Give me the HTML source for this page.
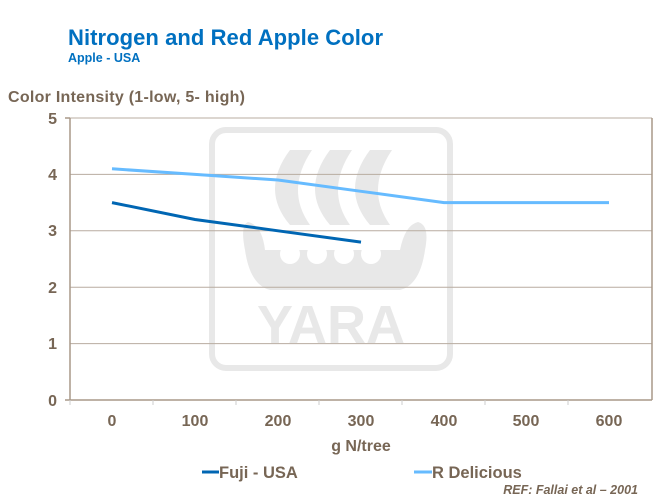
<!DOCTYPE html>
<html><head><style>
body{margin:0;background:#fff;}
svg{display:block;font-family:"Liberation Sans",sans-serif;font-weight:bold;}
</style></head><body>
<svg width="663" height="498" viewBox="0 0 663 498">
<text x="68" y="45" font-size="22" fill="#0070C0" textLength="315">Nitrogen and Red Apple Color</text>
<text x="68" y="62" font-size="12.5" fill="#0070C0">Apple  - USA</text>
<text x="8" y="102" font-size="16" fill="#776655" textLength="237">Color Intensity (1-low, 5- high)</text>
<!-- watermark -->
<g fill="#e8e8e8">
<rect x="212" y="130" width="238" height="238" rx="14" fill="none" stroke="#e8e8e8" stroke-width="6"/>
<path d="M290 150 Q260 190 290 225 L310 225 Q285 190 312 150Z"/>
<path d="M330 150 Q300 190 330 225 L350 225 Q325 190 352 150Z"/>
<path d="M370 150 Q340 190 370 225 L390 225 Q365 190 392 150Z"/>
<path d="M248 222 Q240 225 245 250 Q250 285 270 290 L400 290 Q420 285 425 250 Q430 225 418 222 Q405 225 400 250 L265 250 Q262 225 248 222Z"/>
<text x="331" y="343" font-size="54" text-anchor="middle" fill="#e8e8e8">YARA</text>
</g>
<g fill="#fff"><circle cx="290" cy="254" r="10"/><circle cx="317" cy="254" r="10"/><circle cx="344" cy="254" r="10"/><circle cx="371" cy="254" r="10"/></g>
<!-- grid -->
<g stroke="#b8aca0" stroke-width="1">
<line x1="70" y1="118" x2="652" y2="118"/>
<line x1="70" y1="174.4" x2="652" y2="174.4"/>
<line x1="70" y1="230.8" x2="652" y2="230.8"/>
<line x1="70" y1="287.2" x2="652" y2="287.2"/>
<line x1="70" y1="343.6" x2="652" y2="343.6"/>
</g>
<g stroke="#a89888" stroke-width="1.5">
<line x1="70" y1="118" x2="70" y2="400"/>
<line x1="652" y1="118" x2="652" y2="400"/>
<line x1="65" y1="400" x2="652" y2="400"/>
<line x1="65" y1="118" x2="70" y2="118"/>
</g>
<g stroke="#ccc" stroke-width="1">
<line x1="70" y1="400" x2="70" y2="405"/><line x1="153" y1="400" x2="153" y2="405"/><line x1="236" y1="400" x2="236" y2="405"/><line x1="319" y1="400" x2="319" y2="405"/><line x1="402" y1="400" x2="402" y2="405"/><line x1="485" y1="400" x2="485" y2="405"/><line x1="568" y1="400" x2="568" y2="405"/>
</g>
<g font-size="16" fill="#776655" text-anchor="end">
<text x="57" y="124">5</text><text x="57" y="180">4</text><text x="57" y="236">3</text><text x="57" y="293">2</text><text x="57" y="349">1</text><text x="57" y="406">0</text>
</g>
<g font-size="16" fill="#776655" text-anchor="middle">
<text x="112" y="426">0</text><text x="195" y="426">100</text><text x="278" y="426">200</text><text x="361" y="426">300</text><text x="444" y="426">400</text><text x="526" y="426">500</text><text x="609" y="426">600</text>
<text x="361" y="451">g N/tree</text>
</g>
<polyline fill="none" stroke="#66BBFF" stroke-width="3" points="112,168.8 195,174.4 278,180 361,191.3 444,202.6 526,202.6 609,202.6"/>
<polyline fill="none" stroke="#0066B3" stroke-width="3" points="112,202.6 195,219.5 278,230.8 361,242.1"/>
<line x1="202" y1="472" x2="219" y2="472" stroke="#0066B3" stroke-width="3"/>
<text x="219" y="478" font-size="16.5" fill="#776655">Fuji - USA</text>
<line x1="414" y1="472" x2="432" y2="472" stroke="#66BBFF" stroke-width="3"/>
<text x="432" y="478" font-size="16.5" fill="#776655">R Delicious</text>
<text x="638" y="494" font-size="12.5" font-style="italic" fill="#776655" text-anchor="end">REF: Fallai et al – 2001</text>
</svg>
</body></html>
